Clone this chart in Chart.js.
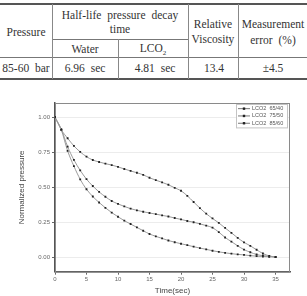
<!DOCTYPE html>
<html><head><meta charset="utf-8">
<script src="https://cdn.jsdelivr.net/npm/chart.js@4"></script>
<style>
html,body{margin:0;padding:0;background:#fff;}
#wrap{position:relative;width:307px;height:296px;overflow:hidden;}
.t{position:absolute;transform:translate(-50%,-50%);font-family:"Liberation Serif",serif;font-size:11.5px;color:#333;white-space:nowrap;word-spacing:3px;line-height:1;}
.hl{position:absolute;background:#777;height:1px;}
.vl{position:absolute;background:#888;width:1px;}
.thick{background:#555;height:2px;}
#cv{position:absolute;left:0;top:85px;width:307px;height:211px;}
</style></head>
<body><div id="wrap">
<div class="hl thick" style="left:0;top:3px;width:307px;"></div>
<div class="hl" style="left:52px;top:39px;width:136px;"></div>
<div class="hl" style="left:0;top:57px;width:307px;"></div>
<div class="hl thick" style="left:0;top:78px;width:307px;"></div>
<div class="vl" style="left:52px;top:4px;height:75px;"></div>
<div class="vl" style="left:118px;top:39px;height:40px;"></div>
<div class="vl" style="left:188px;top:4px;height:75px;"></div>
<div class="vl" style="left:238px;top:4px;height:75px;"></div>
<div class="t" style="left:26px;top:33px;">Pressure</div>
<div class="t" style="left:120px;top:16px;">Half-life pressure decay</div>
<div class="t" style="left:120px;top:30px;">time</div>
<div class="t" style="left:85px;top:50px;">Water</div>
<div class="t" style="left:153px;top:50px;">LCO<sub style="font-size:7px;">2</sub></div>
<div class="t" style="left:213px;top:25px;">Relative</div>
<div class="t" style="left:213px;top:40px;">Viscosity</div>
<div class="t" style="left:273px;top:25px;">Measurement</div>
<div class="t" style="left:273px;top:41px;">error (%)</div>
<div class="t" style="left:26px;top:69px;">85-60 bar</div>
<div class="t" style="left:85px;top:69px;">6.96 sec</div>
<div class="t" style="left:155px;top:69px;">4.81 sec</div>
<div class="t" style="left:214px;top:69px;">13.4</div>
<div class="t" style="left:273px;top:69px;">±4.5</div>
<div id="cv"><canvas id="c" width="307" height="211"></canvas></div>
</div>
<script>
const time = [0,1,2,3,4,5,6,7,8,9,10,11,12,13,14,15,16,17,18,19,20,21,22,23,24,25,26,27,28,29,30,31,32,33,34,35];
const s6540 = [1.0,0.91,0.85,0.795,0.752,0.718,0.694,0.68,0.668,0.658,0.645,0.63,0.616,0.603,0.588,0.567,0.55,0.534,0.517,0.495,0.474,0.438,0.394,0.35,0.31,0.276,0.244,0.208,0.173,0.137,0.105,0.08,0.052,0.025,0.008,0.0];
const s7550 = [1.0,0.915,0.79,0.695,0.62,0.557,0.508,0.466,0.431,0.401,0.38,0.362,0.346,0.334,0.324,0.315,0.307,0.298,0.29,0.279,0.269,0.258,0.249,0.237,0.225,0.21,0.178,0.14,0.11,0.08,0.053,0.034,0.018,0.01,0.005,0.0];
const s8560 = [1.0,0.91,0.76,0.65,0.556,0.485,0.433,0.39,0.352,0.318,0.288,0.26,0.236,0.212,0.188,0.165,0.148,0.133,0.118,0.106,0.095,0.085,0.074,0.064,0.055,0.045,0.037,0.03,0.024,0.019,0.015,0.01,0.006,0.004,0.002,0.0];
const seriesLabels = ["LCO2  65/40","LCO2  75/50","LCO2  85/60"];
const xTicks = [0,5,10,15,20,25,30,35];
const yTicks = [0.00,0.25,0.50,0.75,1.00];

const toPts = arr => arr.map((v,i)=>({x:time[i],y:v}));
const mkDs = (label, arr) => ({
  label, data: toPts(arr),
  borderColor:'#9a9a9a', borderWidth:1,
  pointStyle:'rect', pointRadius:1.3, pointBackgroundColor:'#222', pointBorderColor:'#222', pointBorderWidth:0,
  cubicInterpolationMode:'monotone', fill:false
});

const framePlugin = {
  id:'frame',
  beforeDatasetsDraw(chart){
    const {ctx, chartArea:a} = chart;
    ctx.save();
    ctx.strokeStyle='#8a8a8a'; ctx.lineWidth=1;
    ctx.strokeRect(a.left+0.5, a.top+0.5, a.right-a.left-1, a.bottom-a.top);
    ctx.restore();
  },
  afterDatasetsDraw(chart){
    const {ctx, chartArea:a} = chart;
    const ds = chart.data.datasets;
    const bx = 236, by = a.top+1, bw = 51, rowH = 7.3, bh = rowH*ds.length+1.5;
    ctx.save();
    ctx.fillStyle='#fff'; ctx.fillRect(bx,by,bw,bh);
    ctx.strokeStyle='#c4c4c4'; ctx.lineWidth=1;
    ctx.strokeRect(bx+0.5,by+0.5,bw,bh);
    ctx.font='5.5px "Liberation Sans", Arial, sans-serif';
    ctx.textBaseline='middle';
    ds.forEach((d,i)=>{
      const y = by + 1 + rowH*(i+0.5);
      ctx.strokeStyle='#555'; ctx.lineWidth=0.8;
      ctx.beginPath(); ctx.moveTo(bx+2,y); ctx.lineTo(bx+14,y); ctx.stroke();
      ctx.fillStyle='#222'; ctx.fillRect(bx+6.8,y-1.2,2.4,2.4);
      ctx.fillStyle='#555'; ctx.fillText(d.label, bx+16, y);
    });
    ctx.restore();
  }
};

new Chart(document.getElementById('c'), {
  type:'line',
  data:{datasets:[mkDs(seriesLabels[0],s6540), mkDs(seriesLabels[1],s7550), mkDs(seriesLabels[2],s8560)]},
  options:{
    responsive:false, animation:false,
    layout:{padding:{top:18,right:17,left:0,bottom:0}},
    plugins:{legend:{display:false}, tooltip:{enabled:false}},
    scales:{
      x:{type:'linear', min:0, max:37.3,
        afterBuildTicks(s){ s.ticks = xTicks.map(v=>({value:v})); },
        afterFit(s){ s.height = 24.3; },
        grid:{drawOnChartArea:false, drawTicks:true, tickLength:3, tickColor:'#666', tickWidth:1},
        border:{display:true, color:'#555', width:1.5},
        ticks:{padding:1, color:'#666', font:{family:'"Liberation Sans", Arial, sans-serif', size:6}, maxRotation:0, callback:v=>String(v)},
        title:{display:true, text:'Time(sec)', color:'#444', padding:{top:0,bottom:0}, font:{family:'"Liberation Sans", Arial, sans-serif', size:8}}
      },
      y:{type:'linear', min:-0.105, max:1.102,
        afterBuildTicks(s){ s.ticks = yTicks.map(v=>({value:v})); },
        afterFit(s){ s.width = 55; },
        grid:{color:'#ececec', lineWidth:1, drawTicks:true, tickLength:3, tickColor:'#666', tickWidth:1},
        border:{display:true, color:'#555', width:1.5},
        ticks:{padding:2, color:'#666', font:{family:'"Liberation Sans", Arial, sans-serif', size:6}, callback:v=>Number(v).toFixed(2)},
        title:{display:true, text:'Normalized pressure', color:'#444', padding:{top:17,bottom:0}, font:{family:'"Liberation Sans", Arial, sans-serif', size:8}}
      }
    }
  },
  plugins:[framePlugin]
});
</script>
</body></html>
